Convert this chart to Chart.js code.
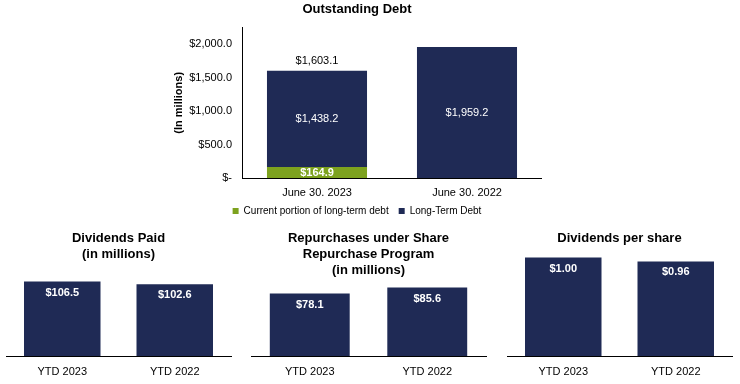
<!DOCTYPE html>
<html>
<head>
<meta charset="utf-8">
<script src="https://cdn.jsdelivr.net/npm/chart.js@4"></script>
<style>
  body { margin: 0; background: #fff; }
  #wrap { position: relative; width: 740px; height: 384px; overflow: hidden; }
  canvas { position: absolute; }
</style>
</head>
<body>
<div id="wrap">
  <canvas id="debt" width="370" height="226" style="left:172px;top:0px"></canvas>
  <canvas id="divPaid" width="240" height="156" style="left:0px;top:228px"></canvas>
  <canvas id="repo" width="250" height="156" style="left:244px;top:228px"></canvas>
  <canvas id="dps" width="240" height="156" style="left:500px;top:228px"></canvas>
</div>
<script>
const debtDates = ['June 30, 2023', 'June 30, 2022'];
const currentPortion = [164.9, null];
const longTermDebt = [1438.2, 1959.2];
const debtTotals = [1603.1, null];
const debtTicks = [0, 500, 1000, 1500, 2000];

const ytdLabels = ['YTD 2023', 'YTD 2022'];
const dividendsPaid = [106.5, 102.6];
const repurchases = [78.1, 85.6];
const dividendsPerShare = [1.00, 0.96];

const navy = '#1f2a55';
const green = '#7da21e';
const FONT = '"Liberation Sans", Arial, sans-serif';
Chart.defaults.font.family = FONT;
Chart.defaults.color = '#000';

function money(v, d) {
  return '$' + v.toLocaleString('en-US', { minimumFractionDigits: d, maximumFractionDigits: d });
}

// draws value text on the bars (inside middle, or near the top), plus stack totals
function barText(decimals, mode, totals) {
  return {
    id: 'barText',
    afterDatasetsDraw(chart) {
      const ctx = chart.ctx;
      ctx.save();
      ctx.textAlign = 'center';
      ctx.textBaseline = 'middle';
      let lastMeta = null;
      chart.data.datasets.forEach((ds, i) => {
        const meta = chart.getDatasetMeta(i);
        lastMeta = meta;
        meta.data.forEach((bar, j) => {
          const v = ds.data[j];
          if (v == null) return;
          ctx.font = ds.labelFont;
          ctx.fillStyle = '#fff';
          const y = mode === 'top' ? bar.y + 11 : (bar.y + bar.base) / 2;
          ctx.fillText(money(v, decimals), bar.x, y);
        });
      });
      if (totals) {
        ctx.font = '11px ' + FONT;
        ctx.fillStyle = '#000';
        totals.forEach((t, j) => {
          if (t == null) return;
          const bar = lastMeta.data[j];
          ctx.fillText(money(t, decimals), bar.x, bar.y - 10);
        });
      }
      ctx.restore();
    }
  };
}

new Chart(document.getElementById('debt'), {
  type: 'bar',
  data: {
    labels: debtDates,
    datasets: [
      { label: 'Current portion of long-term debt', data: currentPortion, backgroundColor: green,
        labelFont: 'bold 11px ' + FONT },
      { label: 'Long-Term Debt', data: longTermDebt, backgroundColor: navy,
        labelFont: '11px ' + FONT }
    ]
  },
  options: {
    responsive: false,
    animation: false,
    layout: { padding: 0 },
    datasets: { bar: { categoryPercentage: 1, barPercentage: 0.667 } },
    plugins: {
      title: { display: true, text: 'Outstanding Debt', color: '#000',
        font: { size: 13, weight: 'bold' }, padding: { top: 2, bottom: 10 } },
      legend: { position: 'bottom',
        labels: { boxWidth: 6, boxHeight: 6, color: '#000', font: { size: 10 }, padding: 10 } },
      tooltip: { enabled: false }
    },
    scales: {
      x: {
        stacked: true,
        afterFit: s => { s.height = 18; },
        grid: { display: false, drawTicks: false },
        border: { color: '#000', width: 1 },
        ticks: { color: '#000', font: { size: 11 }, padding: 8 }
      },
      y: {
        stacked: true,
        min: 0,
        max: 2250,
        afterBuildTicks: axis => { axis.ticks = debtTicks.map(v => ({ value: v })); },
        afterFit: s => { s.width = 70; },
        grid: { display: false, drawTicks: false },
        border: { color: '#000', width: 1 },
        ticks: { color: '#000', font: { size: 11 }, padding: 10,
          callback: v => v === 0 ? '$-' : money(v, 1) },
        title: { display: true, text: '(In millions)', color: '#000',
          font: { size: 11, weight: 'bold' }, padding: { top: 0, bottom: 5 } }
      }
    }
  },
  plugins: [barText(1, 'middle', debtTotals)]
});

function smallBar(id, title, values, max, decimals, padL, padR) {
  new Chart(document.getElementById(id), {
    type: 'bar',
    data: {
      labels: ytdLabels,
      datasets: [{ data: values, backgroundColor: navy, labelFont: 'bold 11px ' + FONT }]
    },
    options: {
      responsive: false,
      animation: false,
      layout: { padding: { left: padL, right: padR, top: 0, bottom: 0 } },
      datasets: { bar: { categoryPercentage: 1, barPercentage: 0.68 } },
      plugins: {
        title: { display: true, text: title, color: '#000',
          font: { size: 13, weight: 'bold' }, padding: { top: 3, bottom: 3 } },
        legend: { display: false },
        tooltip: { enabled: false }
      },
      scales: {
        x: {
          afterFit: s => { s.height = 28; },
          grid: { display: false, drawTicks: false },
          border: { color: '#000', width: 1 },
          ticks: { color: '#000', font: { size: 11 }, padding: 9 }
        },
        y: { display: false, min: 0, max: max }
      }
    },
    plugins: [barText(decimals, 'top', null)]
  });
}

smallBar('divPaid', ['Dividends Paid', '(in millions)'], dividendsPaid, 130, 1, 6, 9);
smallBar('repo', ['Repurchases under Share', 'Repurchase Program', '(in millions)'], repurchases, 94, 1, 7, 8);
smallBar('dps', 'Dividends per share', dividendsPerShare, 1.08, 2, 7, 8);
</script>
</body>
</html>
